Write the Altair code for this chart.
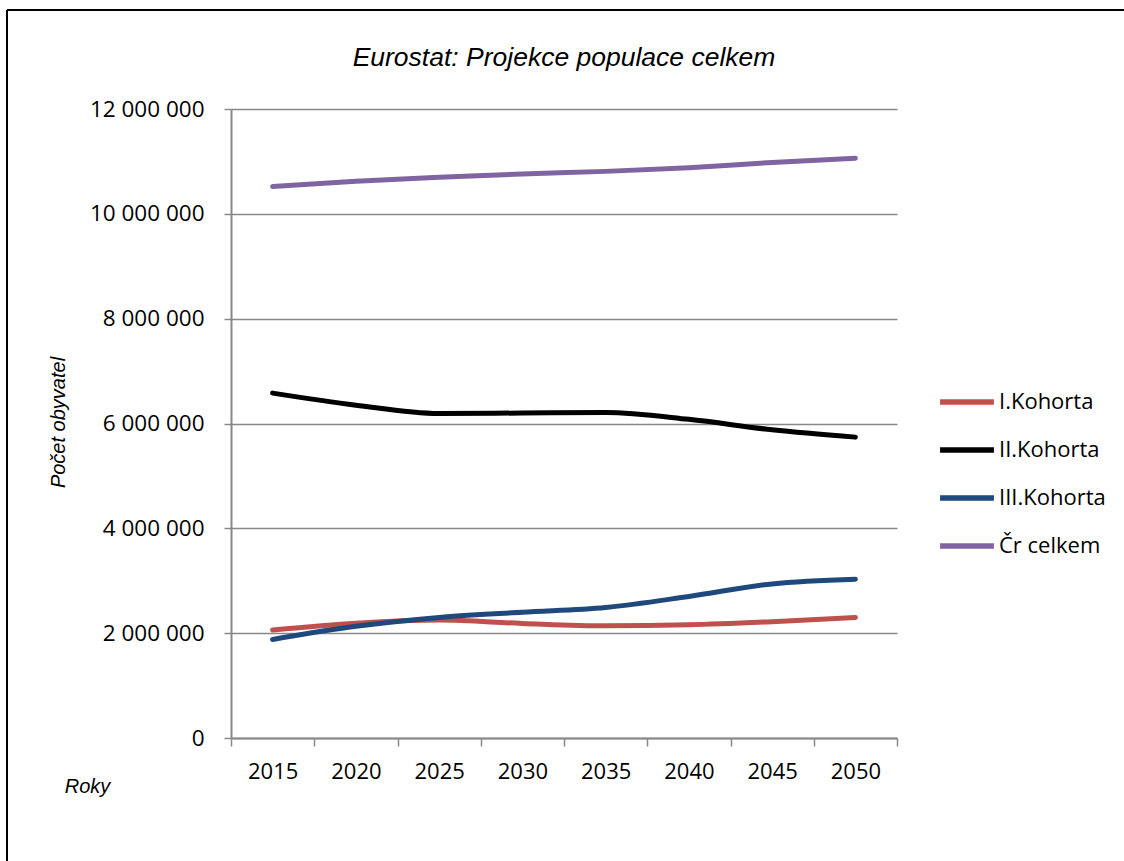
import altair as alt
import pandas as pd

title_text = "Eurostat: Projekce populace celkem"
years = ["2015", "2020", "2025", "2030", "2035", "2040", "2045", "2050"]
series_names = ["I.Kohorta", "II.Kohorta", "III.Kohorta", "Čr celkem"]
kohorta_1 = [2060000, 2190000, 2250000, 2185000, 2140000, 2160000, 2220000, 2300000]
kohorta_2 = [6580000, 6350000, 6190000, 6200000, 6210000, 6080000, 5880000, 5740000]
kohorta_3 = [1880000, 2130000, 2300000, 2400000, 2490000, 2700000, 2940000, 3030000]
celkem = [10520000, 10620000, 10700000, 10760000, 10810000, 10880000, 10980000, 11060000]
colors = ["#C0504D", "#000000", "#1F497D", "#8064A2"]
y_ticks = [0, 2000000, 4000000, 6000000, 8000000, 10000000, 12000000]

rows = []
for name, vals in zip(series_names, [kohorta_1, kohorta_2, kohorta_3, celkem]):
    for yr, v in zip(years, vals):
        rows.append({"Rok": yr, "Série": name, "Hodnota": v})
df = pd.DataFrame(rows)

FONT = "Open Sans"
TFONT = "Liberation Sans"
GRAY = "#888888"

lines = alt.Chart(df).mark_line(strokeWidth=5, strokeCap="round", interpolate="monotone").encode(
    x=alt.X("Rok:O", sort=years,
            scale=alt.Scale(type="band", paddingInner=0, paddingOuter=0),
            axis=alt.Axis(title="Roky", labelAngle=0, tickBand="extent", grid=False,
                          tickSize=8, tickColor=GRAY, domainColor=GRAY, tickWidth=1.5, domainWidth=2,
                          labelFont=FONT, labelFontSize=22, labelColor="#000000", labelPadding=15,
                          titleFont=TFONT, titleFontSize=20, titleFontStyle="italic", titleFontWeight="normal",
                          titleX=-144, titleY=48, titleAlign="center", titleBaseline="middle", titleColor="#000000")),
    y=alt.Y("Hodnota:Q", scale=alt.Scale(domain=[0, 12000000], nice=False),
            axis=alt.Axis(title="Počet obyvatel", values=y_ticks,
                          labelExpr="replace(replace(format(datum.value, ','), ',', ' '), ',', ' ')",
                          grid=True, gridColor=GRAY, gridWidth=1.5,
                          tickSize=7, tickColor=GRAY, tickWidth=1.5, domainColor=GRAY, domainWidth=2,
                          labelFont=FONT, labelFontSize=22.5, labelColor="#000000", labelPadding=20,
                          titleFont=TFONT, titleFontSize=20, titleFontStyle="italic", titleFontWeight="normal",
                          titleX=-173, titleY=313, titleAngle=-90, titleAlign="center", titleBaseline="middle",
                          titleColor="#000000")),
    color=alt.Color("Série:N", sort=series_names,
                    scale=alt.Scale(domain=series_names, range=colors),
                    legend=alt.Legend(title=None, orient="none", legendX=706, legendY=263,
                                      symbolType="stroke", symbolSize=2900, symbolStrokeWidth=5.5,
                                      labelFont=FONT, labelFontSize=22, labelColor="#000000",
                                      labelOffset=2, rowPadding=7)),
    order=alt.Order("Série:N"),
)

title_mark = alt.Chart(pd.DataFrame({"t": [title_text]})).mark_text(
    font=TFONT, fontSize=26.5, fontStyle="italic", fontWeight="normal", color="#000000",
    align="center", baseline="alphabetic").encode(
    text="t:N", x=alt.value(333), y=alt.value(-43))

border_left = alt.Chart(pd.DataFrame({"t": [0]})).mark_rule(color="#000000", strokeWidth=2).encode(
    x=alt.value(-224), y=alt.value(-99), y2=alt.value(760))
border_top = alt.Chart(pd.DataFrame({"t": [0]})).mark_rule(color="#000000", strokeWidth=2).encode(
    x=alt.value(-224), x2=alt.value(900), y=alt.value(-99))

chart = alt.layer(lines, title_mark, border_left, border_top).properties(
    width=666, height=629,
    background="#ffffff",
    autosize=alt.AutoSizeParams(type="none"),
    padding={"left": 231, "top": 109, "right": 227, "bottom": 123},
).configure_view(stroke=None)

chart.save("out.html", embed_options={"renderer": "svg", "actions": False})
